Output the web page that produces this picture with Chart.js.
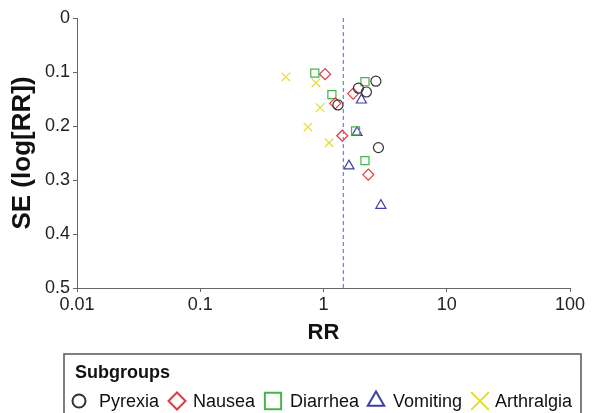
<!DOCTYPE html>
<html>
<head>
<meta charset="utf-8">
<script src="https://cdn.jsdelivr.net/npm/chart.js@4/dist/chart.umd.min.js"></script>
<style>
  html, body { margin: 0; padding: 0; background: #fff; }
  #wrap { width: 592px; height: 413px; }
</style>
</head>
<body>
<div id="wrap"><canvas id="funnel"></canvas></div>
<script>
/* Funnel plot: RR vs SE(log RR), per adverse-event subgroup */

const subgroupNames = ["Pyrexia", "Nausea", "Diarrhea", "Vomiting", "Arthralgia"];

const pyrexiaRR = [2.66, 1.92, 2.23, 1.31, 2.79];
const pyrexiaSE = [0.117, 0.130, 0.137, 0.161, 0.240];

const nauseaRR = [1.03, 1.74, 1.245, 1.42, 2.31];
const nauseaSE = [0.104, 0.140, 0.158, 0.218, 0.290];

const diarrheaRR = [0.85, 2.17, 1.17, 1.82, 2.17];
const diarrheaSE = [0.102, 0.118, 0.142, 0.209, 0.264];

const vomitingRR = [2.03, 1.87, 1.61, 2.92];
const vomitingSE = [0.152, 0.212, 0.274, 0.347];

const arthralgiaRR = [0.495, 0.868, 0.94, 0.747, 1.11];
const arthralgiaSE = [0.109, 0.120, 0.166, 0.202, 0.231];

const pooledRR = 1.45;
const xTickValues = [0.01, 0.1, 1, 10, 100];
const yTickValues = [0, 0.1, 0.2, 0.3, 0.4, 0.5];

const styles = [
  { color: "#333333", shape: "circle",   r: 5,   lr: 6.5 },
  { color: "#e0393e", shape: "rectRot",  r: 5.5, lr: 8.5 },
  { color: "#45b549", shape: "rect",     r: 5.7, lr: 11.5 },
  { color: "#3c40a3", shape: "triangle", r: 5.8, lr: 9.5 },
  { color: "#e3dc2a", shape: "crossRot", r: 6,   lr: 12.5 }
];

function pts(rr, se){
  return rr.map((v, i) => ({ x: v, y: se[i] }));
}

const seriesRR = [pyrexiaRR, nauseaRR, diarrheaRR, vomitingRR, arthralgiaRR];
const seriesSE = [pyrexiaSE, nauseaSE, diarrheaSE, vomitingSE, arthralgiaSE];

const datasets = subgroupNames.map((name, i) => ({
  type: "scatter",
  label: name,
  data: pts(seriesRR[i], seriesSE[i]),
  pointStyle: styles[i].shape,
  pointRadius: styles[i].r,
  pointHoverRadius: styles[i].r,
  pointBorderWidth: 1.2,
  borderColor: styles[i].color,
  backgroundColor: "rgba(0,0,0,0)"
}));

datasets.unshift({
  type: "line",
  label: "pooled",
  data: [{ x: pooledRR, y: 0 }, { x: pooledRR, y: 0.5 }],
  borderColor: "#7d82d6",
  borderWidth: 1.3,
  borderDash: [4, 3],
  pointRadius: 0,
  fill: false
});

// legend layout (marker centre / text start)
const legendBox = { left: 64, top: 354, right: 581, bottom: 425 };
const legendMarkerX = [79, 177, 273, 376, 480];
const legendTextX = [99, 193, 290, 393, 495];

const legendPlugin = {
  id: "subgroupLegend",
  afterDraw(chart){
    const ctx = chart.ctx;
    ctx.save();
    ctx.strokeStyle = "#555";
    ctx.lineWidth = 1.5;
    ctx.strokeRect(legendBox.left, legendBox.top, legendBox.right - legendBox.left, legendBox.bottom - legendBox.top);

    ctx.fillStyle = "#111";
    ctx.textBaseline = "middle";
    ctx.textAlign = "left";
    ctx.font = "bold 18px 'Liberation Sans', Arial, sans-serif";
    ctx.fillText("Subgroups", 75, 373);

    ctx.font = "18px 'Liberation Sans', Arial, sans-serif";
    subgroupNames.forEach((name, i) => {
      const st = styles[i];
      ctx.strokeStyle = st.color;
      ctx.fillStyle = "rgba(0,0,0,0)";
      ctx.lineWidth = 2;
      Chart.helpers.drawPoint(ctx, { pointStyle: st.shape, radius: st.lr, borderWidth: 2, rotation: 0 }, legendMarkerX[i], 401);
      ctx.fillStyle = "#111";
      ctx.fillText(name, legendTextX[i], 402);
    });
    ctx.restore();
  }
};

new Chart(document.getElementById("funnel"), {
  data: { datasets: datasets },
  plugins: [legendPlugin],
  options: {
    responsive: true,
    maintainAspectRatio: false,
    animation: false,
    layout: { padding: { left: 0, top: 18, right: 22, bottom: 55 } },
    plugins: { legend: { display: false }, tooltip: { enabled: false } },
    scales: {
      x: {
        type: "logarithmic",
        min: 0.01,
        max: 100,
        afterBuildTicks: s => { s.ticks = xTickValues.map(v => ({ value: v })); },
        afterFit: s => { s.height = 70; },
        ticks: {
          color: "#222",
          padding: 2,
          maxRotation: 0,
          font: { size: 18, family: "'Liberation Sans', Arial, sans-serif" },
          callback: v => String(v)
        },
        grid: { drawOnChartArea: false, drawTicks: true, tickLength: 4, color: "#666" },
        border: { display: true, color: "#666", width: 1 },
        title: {
          display: true,
          text: "RR",
          color: "#111",
          padding: { top: 0, bottom: 12 },
          font: { size: 22, weight: "bold", family: "'Liberation Sans', Arial, sans-serif" }
        }
      },
      y: {
        type: "linear",
        reverse: true,
        min: 0,
        max: 0.5,
        afterBuildTicks: s => { s.ticks = yTickValues.map(v => ({ value: v })); },
        afterFit: s => { s.width = 77; },
        ticks: {
          color: "#222",
          padding: 3,
          font: { size: 18, family: "'Liberation Sans', Arial, sans-serif" },
          callback: v => String(+v.toFixed(1))
        },
        grid: { drawOnChartArea: false, drawTicks: true, tickLength: 4, color: "#666" },
        border: { display: true, color: "#666", width: 1 },
        title: {
          display: true,
          text: "SE (log[RR])",
          color: "#111",
          padding: { top: 7, bottom: 0 },
          font: { size: 26, weight: "bold", family: "'Liberation Sans', Arial, sans-serif" }
        }
      }
    }
  }
});
</script>
</body>
</html>
